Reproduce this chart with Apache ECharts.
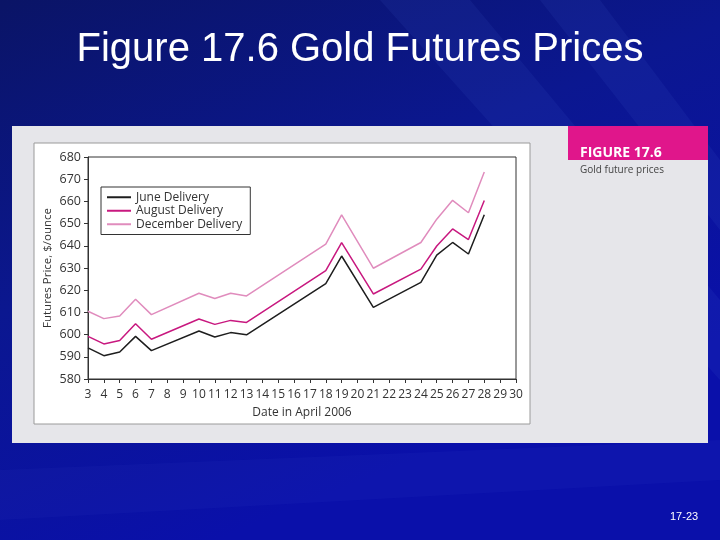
<!DOCTYPE html>
<html>
<head>
<meta charset="utf-8">
<script src="https://cdn.jsdelivr.net/npm/echarts@6/dist/echarts.min.js"></script>
<style>
html,body{margin:0;padding:0;background:#0b1678;}
#chart{width:720px;height:540px;}
</style>
</head>
<body>
<div id="chart"></div>
<script>
var days = [3, 4, 5, 6, 7, 10, 11, 12, 13, 18, 19, 21, 24, 25, 26, 27, 28];
var june = [594.0, 590.5, 592.2, 599.2, 592.8, 601.6, 598.9, 600.9, 599.9, 623.0, 635.4, 612.3, 623.5, 635.8, 641.5, 636.3, 654.0];
var august = [599.2, 595.8, 597.3, 604.9, 597.9, 607.0, 604.6, 606.4, 605.5, 628.8, 641.4, 618.3, 629.5, 639.9, 647.6, 642.8, 660.4];
var december = [610.5, 607.2, 608.4, 615.9, 609.0, 618.6, 616.3, 618.6, 617.4, 640.8, 653.9, 629.9, 641.5, 652.0, 660.5, 654.9, 673.2];
var seriesNames = ['June Delivery', 'August Delivery', 'December Delivery'];
var seriesColors = ['#1e1e1e', '#c8187f', '#e08cbd'];

function pairs(vals) { return days.map(function (d, i) { return [d, vals[i]]; }); }

var chart = echarts.init(document.getElementById('chart'));
var font = 'Open Sans';
chart.setOption({
  backgroundColor: {
    type: 'linear', x: 0, y: 0, x2: 0.3, y2: 1,
    colorStops: [{offset: 0, color: '#0a1466'}, {offset: 0.5, color: '#0b1790'}, {offset: 1, color: '#0a10aa'}]
  },
  animation: false,
  graphic: [
    {type: 'polygon', z: -20, shape: {points: [[380, 0], [470, 0], [720, 300], [720, 380]]}, style: {fill: 'rgba(80,110,220,0.10)'}},
    {type: 'polygon', z: -20, shape: {points: [[540, 0], [600, 0], [720, 160], [720, 230]]}, style: {fill: 'rgba(80,110,220,0.10)'}},
    {type: 'polygon', z: -20, shape: {points: [[0, 470], [720, 440], [720, 480], [0, 520]]}, style: {fill: 'rgba(80,110,220,0.06)'}},
    {type: 'text', z: 10, left: 'center', top: 30, style: {text: 'Figure 17.6 Gold Futures Prices', fill: '#ffffff', font: '40px "Liberation Sans", Arial, sans-serif'}},
    {type: 'rect', z: -10, shape: {x: 12, y: 126, width: 696, height: 317}, style: {fill: '#e6e6ea'}},
    {type: 'rect', z: -9, shape: {x: 34, y: 143, width: 496, height: 281}, style: {fill: '#ffffff', stroke: '#9a9a9a', lineWidth: 1}},
    {type: 'rect', z: -9, shape: {x: 568, y: 126, width: 140, height: 34}, style: {fill: '#e0168b'}},
    {type: 'text', z: 10, x: 580, y: 146, style: {text: 'FIGURE 17.6', fill: '#ffffff', font: 'bold 14px "Open Sans", sans-serif'}},
    {type: 'text', z: 10, x: 580, y: 165, style: {text: 'Gold future prices', fill: '#444444', font: '10px "Open Sans", sans-serif'}},
    {type: 'text', z: 10, x: 670, y: 511, style: {text: '17-23', fill: '#ffffff', font: '11px "Liberation Sans", Arial, sans-serif'}}
  ],
  legend: {
    left: 101, top: 187, orient: 'vertical',
    backgroundColor: '#ffffff', borderColor: '#333333', borderWidth: 1,
    padding: [4, 8, 4, 6], itemGap: 1, itemWidth: 24, itemHeight: 2,
    icon: 'rect',
    textStyle: {fontFamily: font, fontSize: 12, color: '#333333', lineHeight: 12.5},
    data: seriesNames
  },
  grid: {left: 88, top: 157, right: 204, bottom: 161, show: true, borderColor: '#333333', borderWidth: 1, backgroundColor: 'transparent'},
  xAxis: {
    type: 'value', min: 3, max: 30, interval: 1,
    name: 'Date in April 2006', nameLocation: 'middle', nameGap: 28,
    nameTextStyle: {fontFamily: font, fontSize: 12, color: '#333333'},
    axisLine: {lineStyle: {color: '#333333'}},
    axisTick: {show: true, length: 4, lineStyle: {color: '#333333'}},
    axisLabel: {fontFamily: font, fontSize: 12, color: '#333333', margin: 10},
    splitLine: {show: false}
  },
  yAxis: {
    type: 'value', min: 580, max: 680, interval: 10,
    name: 'Futures Price, $/ounce', nameLocation: 'middle', nameGap: 34, nameMoveOverlap: false,
    nameTextStyle: {fontFamily: font, fontSize: 11.5, color: '#333333'},
    axisLine: {show: true, lineStyle: {color: '#333333'}},
    axisTick: {show: true, length: 4, lineStyle: {color: '#333333'}},
    axisLabel: {fontFamily: font, fontSize: 12.5, color: '#333333', margin: 7},
    splitLine: {show: false}
  },
  series: [
    {name: seriesNames[0], type: 'line', data: pairs(june), showSymbol: false, symbol: 'none', color: seriesColors[0], lineStyle: {width: 1.5, color: seriesColors[0]}},
    {name: seriesNames[1], type: 'line', data: pairs(august), showSymbol: false, symbol: 'none', color: seriesColors[1], lineStyle: {width: 1.5, color: seriesColors[1]}},
    {name: seriesNames[2], type: 'line', data: pairs(december), showSymbol: false, symbol: 'none', color: seriesColors[2], lineStyle: {width: 1.5, color: seriesColors[2]}}
  ]
});
</script>
</body>
</html>
